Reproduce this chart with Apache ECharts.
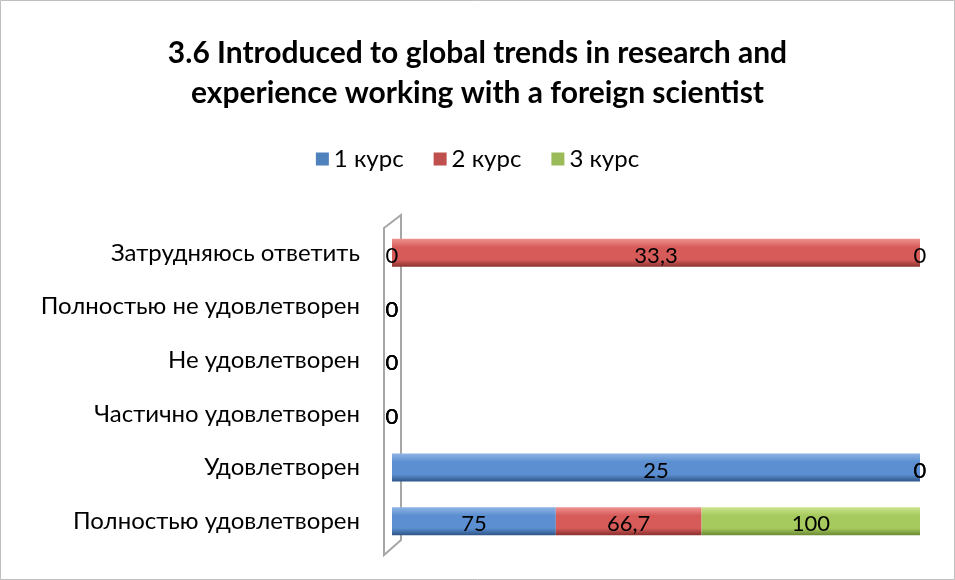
<!DOCTYPE html>
<html>
<head>
<meta charset="utf-8">
<script src="https://cdn.jsdelivr.net/npm/echarts@6/dist/echarts.min.js"></script>
<style>
  html, body { margin: 0; padding: 0; background: #fff; }
  #chart { width: 955px; height: 580px; }
</style>
</head>
<body>
<div id="chart"></div>
<script>
// категории снизу вверх (порядок оси y)
const categories = [
  'Полностью удовлетворен',
  'Удовлетворен',
  'Частично удовлетворен',
  'Не удовлетворен',
  'Полностью не удовлетворен',
  'Затрудняюсь ответить'
];
const seriesNames = ['1 курс', '2 курс', '3 курс'];
const kurs1 = [75, 25, 0, 0, 0, 0];
const kurs2 = [66.7, 0, 0, 0, 0, 33.3];
const kurs3 = [100, 0, 0, 0, 0, 0];

const raw = [kurs1, kurs2, kurs3];
const baseColors = ['#4F81BD', '#C0504D', '#9BBB59'];
// цвета цилиндров: верх, середина, низ
const shades = [
  ['#8fb4e3', '#5b8fd1', '#2f5587'],
  ['#ef9291', '#d65b59', '#8a302e'],
  ['#cde58f', '#a6ca5e', '#6c8a34']
];

// нормированная (100%) накопленная линейка
const totals = categories.map((_, i) => raw.reduce((s, arr) => s + arr[i], 0));

function fmt(v) {
  return String(v).replace('.', ',');
}

const series = raw.map((arr, k) => ({
  name: seriesNames[k],
  type: 'bar',
  stack: 'all',
  barWidth: 28,
  data: arr.map((v, i) => ({
    value: totals[i] ? v / totals[i] * 100 : 0,
    raw: v
  })),
  itemStyle: {
    color: new echarts.graphic.LinearGradient(0, 0, 0, 1, [
      { offset: 0, color: shades[k][0] },
      { offset: 0.3, color: shades[k][1] },
      { offset: 0.75, color: shades[k][1] },
      { offset: 1, color: shades[k][2] }
    ])
  },
  label: {
    show: true,
    position: 'inside',
    color: '#000',
    fontSize: 22,
    fontFamily: 'Lato',
    offset: [0, 3],
    formatter: p => fmt(p.data.raw)
  }
}));

const chart = echarts.init(document.getElementById('chart'));
chart.setOption({
  animation: false,
  title: {
    text: '3.6 Introduced to global trends in research and\nexperience working with a foreign scientist',
    left: 'center',
    top: 28,
    textStyle: {
      fontFamily: 'Lato',
      fontWeight: 'bold',
      fontSize: 30,
      lineHeight: 40,
      color: '#000'
    }
  },
  legend: {
    top: 142,
    left: 'center',
    itemWidth: 13,
    itemHeight: 13,
    itemGap: 30,
    icon: 'rect',
    data: seriesNames.map((n, k) => ({ name: n, itemStyle: { color: baseColors[k] } })),
    textStyle: { fontFamily: 'Lato', fontSize: 24, color: '#000' }
  },
  grid: { left: 392, right: 35, top: 226, bottom: 32 },
  xAxis: {
    type: 'value',
    min: 0,
    max: 100,
    show: false
  },
  yAxis: {
    type: 'category',
    data: categories,
    axisLine: { show: false },
    axisTick: { show: false },
    axisLabel: {
      margin: 32,
      fontFamily: 'Lato',
      fontSize: 24,
      color: '#000',
      padding: [10, 0, 0, 0]
    }
  },
  graphic: [
    {
      type: 'rect',
      shape: { x: 0.5, y: 0.5, width: 954, height: 579 },
      style: { fill: 'none', stroke: '#bfbfbf', lineWidth: 1 },
      silent: true
    },
    {
      type: 'polygon',
      shape: { points: [[384, 228], [401, 215], [401, 540], [384, 555]] },
      style: { fill: 'none', stroke: '#a6a6a6', lineWidth: 2 },
      z: -1,
      silent: true
    }
  ],
  series: series
});
</script>
</body>
</html>
